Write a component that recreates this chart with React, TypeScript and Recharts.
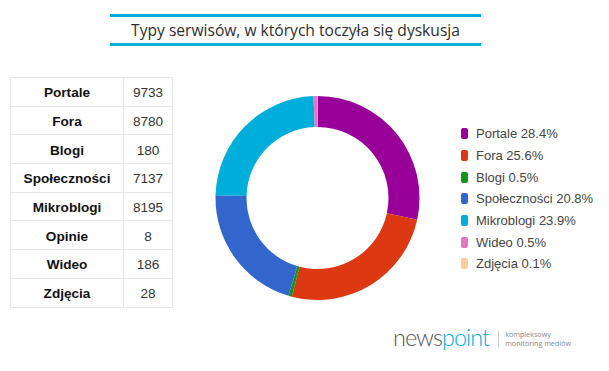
import { PieChart, Pie, Cell } from "recharts";

const TITLE = "Typy serwisów, w których toczyła się dyskusja";

// table rows (all sources)
const tableNames = [
  "Portale",
  "Fora",
  "Blogi",
  "Społeczności",
  "Mikroblogi",
  "Opinie",
  "Wideo",
  "Zdjęcia",
];
const tableValues = [9733, 8780, 180, 7137, 8195, 8, 186, 28];

// pie slices (Opinie is left out of the chart)
const sliceNames = [
  "Portale",
  "Fora",
  "Blogi",
  "Społeczności",
  "Mikroblogi",
  "Wideo",
  "Zdjęcia",
];
const sliceValues = [9733, 8780, 180, 7137, 8195, 186, 28];
const sliceColors = [
  "#990099",
  "#DC3912",
  "#109618",
  "#3366CC",
  "#00AEDB",
  "#E377C2",
  "#FFCC99",
];

const total = tableValues.reduce((a, b) => a + b, 0);

const pieData = sliceNames.map((name, i) => ({
  name,
  value: sliceValues[i],
  pct: ((sliceValues[i] / total) * 100).toFixed(1),
}));

const CYAN = "#00AEDB";

function LegendBox() {
  return (
    <div
      style={{
        position: "absolute",
        left: 461,
        top: 123,
        fontFamily: "'Liberation Sans', Arial, sans-serif",
      }}
    >
      {pieData.map((d, i) => (
        <div
          key={d.name}
          style={{
            display: "flex",
            alignItems: "center",
            height: 21.7,
            fontSize: 13,
            color: "#444",
          }}
        >
          <span
            style={{
              display: "inline-block",
              width: 7,
              height: 11,
              borderRadius: 2,
              background: sliceColors[i],
              marginRight: 8,
            }}
          />
          {d.name} {d.pct}%
        </div>
      ))}
    </div>
  );
}

export default function App() {
  return (
    <div
      style={{
        position: "absolute",
        left: 0,
        top: 0,
        width: 609,
        height: 371,
        background: "#fff",
        overflow: "hidden",
      }}
    >
      {/* title with cyan rules */}
      <div
        style={{
          position: "absolute",
          left: 110,
          top: 14,
          width: 371,
          height: 26,
          borderTop: `3px solid ${CYAN}`,
          borderBottom: `3px solid ${CYAN}`,
          textAlign: "center",
          fontFamily: "'Open Sans', sans-serif",
          fontSize: 15.6,
          lineHeight: "26px",
          color: "#2e2e2e",
        }}
      >
        {TITLE}
      </div>

      {/* data table */}
      <table
        style={{
          position: "absolute",
          left: 10,
          top: 77,
          borderCollapse: "collapse",
          fontFamily: "'Liberation Sans', Arial, sans-serif",
          fontSize: 13.6,
          color: "#111",
        }}
      >
        <tbody>
          {tableNames.map((n, i) => (
            <tr key={n} style={{ height: 28.7 }}>
              <td
                style={{
                  width: 112,
                  border: "1px solid #e6e6e6",
                  textAlign: "center",
                  fontWeight: "bold",
                  padding: "2px 0 0 0",
                }}
              >
                {n}
              </td>
              <td
                style={{
                  width: 48,
                  border: "1px solid #e6e6e6",
                  textAlign: "center",
                  padding: "2px 0 0 0",
                  color: "#333",
                }}
              >
                {tableValues[i]}
              </td>
            </tr>
          ))}
        </tbody>
      </table>

      <PieChart
        width={609}
        height={371}
        margin={{ top: 0, right: 0, bottom: 0, left: 0 }}
        style={{ position: "absolute", left: 0, top: 0 }}
      >
        <Pie
          data={pieData}
          dataKey="value"
          nameKey="name"
          cx={317.5}
          cy={198}
          innerRadius={71}
          outerRadius={102}
          startAngle={90}
          endAngle={-270}
          stroke="none"
          isAnimationActive={false}
        >
          {pieData.map((d, i) => (
            <Cell key={d.name} fill={sliceColors[i]} />
          ))}
        </Pie>
      </PieChart>

      <LegendBox />

      {/* logo */}
      <div
        style={{
          position: "absolute",
          left: 393,
          top: 324,
          display: "flex",
          alignItems: "center",
        }}
      >
        <span
          style={{
            fontFamily: "Lato, sans-serif",
            fontWeight: 300,
            fontSize: 23.5,
            letterSpacing: -1,
            lineHeight: "26px",
          }}
        >
          <span style={{ color: "#555" }}>news</span>
          <span style={{ color: CYAN }}>point</span>
        </span>
        <span
          style={{
            display: "inline-block",
            width: 1,
            height: 16,
            background: "#ccc",
            margin: "3px 6px 0 9px",
          }}
        />
        <span
          style={{
            fontFamily: "'Open Sans', sans-serif",
            fontSize: 7.2,
            lineHeight: "9px",
            color: "#888",
            marginTop: 3,
          }}
        >
          kompleksowy
          <br />
          monitoring mediów
        </span>
      </div>
    </div>
  );
}
